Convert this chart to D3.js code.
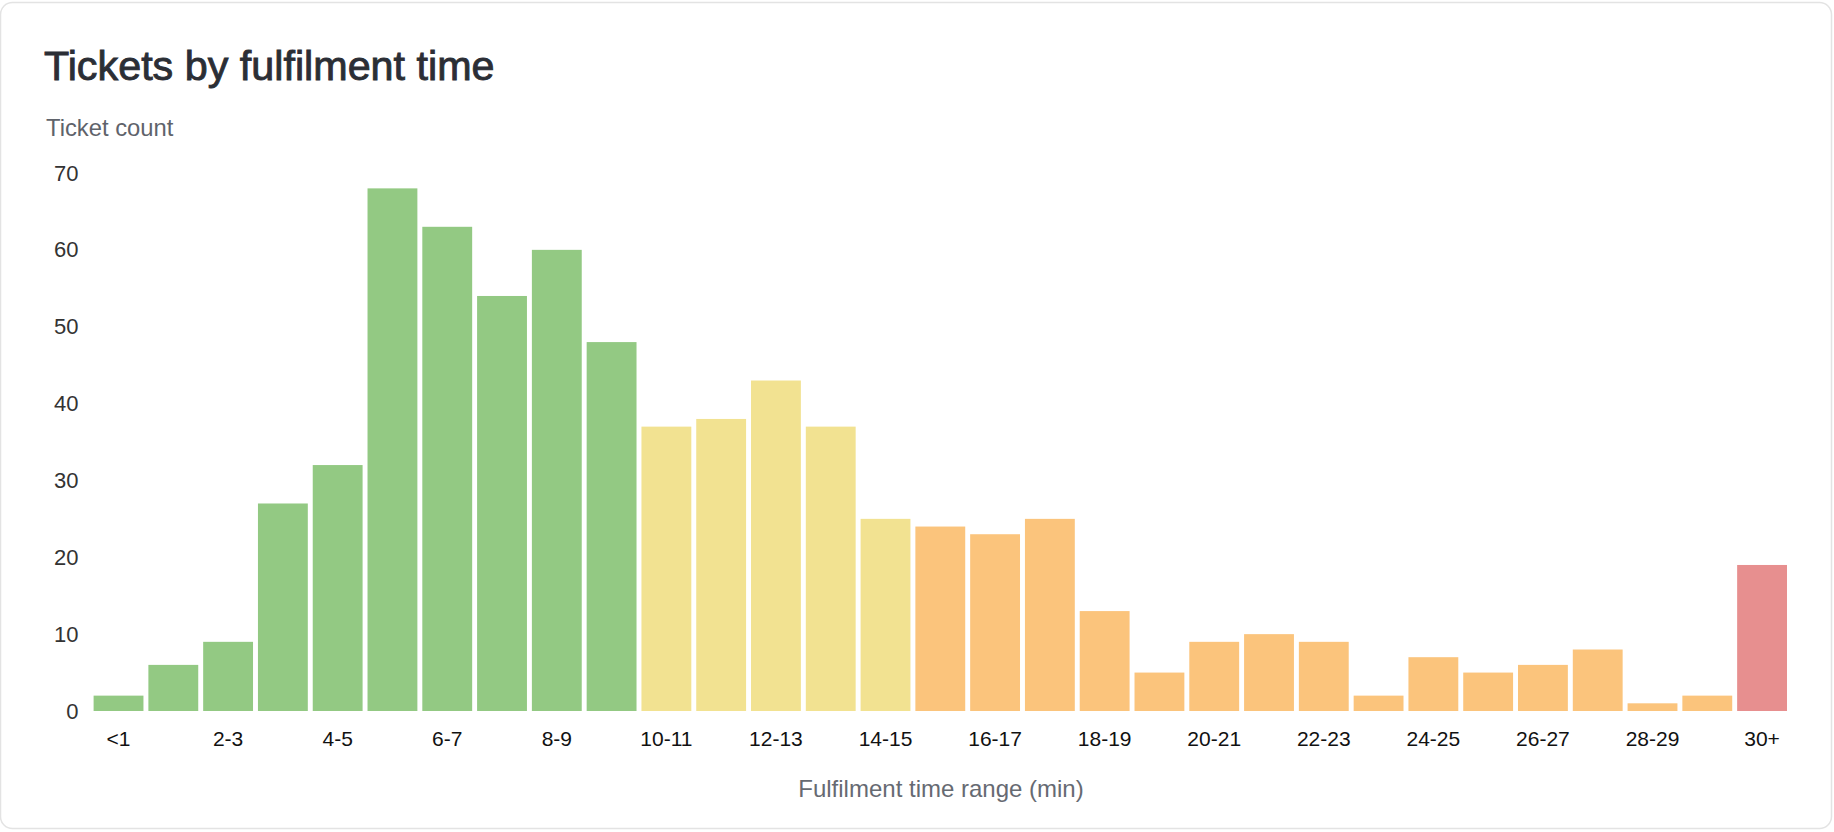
<!DOCTYPE html>
<html>
<head>
<meta charset="utf-8">
<script src="https://cdn.jsdelivr.net/npm/d3@7/dist/d3.min.js"></script>
<style>
  html, body { margin: 0; padding: 0; background: #ffffff; }
  svg { display: block; }
</style>
</head>
<body>
<svg id="chart" width="1834" height="832"></svg>
<script>
const categories = ["<1","1-2","2-3","3-4","4-5","5-6","6-7","7-8","8-9","9-10",
  "10-11","11-12","12-13","13-14","14-15","15-16","16-17","17-18","18-19","19-20",
  "20-21","21-22","22-23","23-24","24-25","25-26","26-27","27-28","28-29","29-30","30+"];
const counts = [2,6,9,27,32,68,63,54,60,48,
  37,38,43,37,25,24,23,25,13,5,
  9,10,9,2,7,5,6,8,1,2,19];
const bands = ["fast","fast","fast","fast","fast","fast","fast","fast","fast","fast",
  "ok","ok","ok","ok","ok","slow","slow","slow","slow","slow",
  "slow","slow","slow","slow","slow","slow","slow","slow","slow","slow","late"];
const bandNames = ["fast","ok","slow","late"];
const bandColors = ["#93c983","#f2e291","#fbc47c","#e78f8f"];
const yTicks = [0,10,20,30,40,50,60,70];
const xTickLabels = ["<1","2-3","4-5","6-7","8-9","10-11","12-13","14-15","16-17","18-19",
  "20-21","22-23","24-25","26-27","28-29","30+"];

const svg = d3.select("#chart");
const font = "'Liberation Sans', Arial, Helvetica, sans-serif";

// card
svg.append("rect")
  .attr("x", 0.5).attr("y", 2.5).attr("width", 1831).attr("height", 826)
  .attr("rx", 12).attr("fill", "#ffffff").attr("stroke", "#e3e3e3").attr("stroke-width", 1.5);

svg.append("text").attr("x", 44).attr("y", 80)
  .attr("font-family", font).attr("font-size", 41.3).attr("font-weight", 400)
  .attr("fill", "#2b2e35").attr("stroke", "#2b2e35").attr("stroke-width", 0.9)
  .attr("paint-order", "stroke")
  .text("Tickets by fulfilment time");

svg.append("text").attr("x", 46).attr("y", 136)
  .attr("font-family", font).attr("font-size", 23.8)
  .attr("fill", "#5f636b").text("Ticket count");

const x = d3.scaleBand().domain(categories).range([93.6, 1787]).paddingInner(0.09).paddingOuter(0);
const y = d3.scaleLinear().domain([0, 70]).range([711, 173]);
const color = d3.scaleOrdinal().domain(bandNames).range(bandColors);

svg.append("g").selectAll("rect").data(categories).join("rect")
  .attr("x", d => x(d))
  .attr("width", x.bandwidth())
  .attr("y", (d, i) => y(counts[i]))
  .attr("height", (d, i) => y(0) - y(counts[i]))
  .attr("fill", (d, i) => color(bands[i]));

const yAxis = svg.append("g").attr("transform", "translate(78.5,0)")
  .call(d3.axisLeft(y).tickValues(yTicks).tickSize(0).tickPadding(0));
yAxis.select(".domain").remove();
yAxis.selectAll("text").attr("font-family", font).attr("font-size", 22).attr("fill", "#333333");

const xAxis = svg.append("g").attr("transform", "translate(0,711)")
  .call(d3.axisBottom(x).tickValues(xTickLabels).tickSize(0).tickPadding(20));
xAxis.select(".domain").remove();
xAxis.selectAll("text").attr("font-family", font).attr("font-size", 21).attr("fill", "#111111");

svg.append("text").attr("x", 941).attr("y", 797).attr("text-anchor", "middle")
  .attr("font-family", font).attr("font-size", 24)
  .attr("fill", "#666a72").text("Fulfilment time range (min)");
</script>
</body>
</html>
